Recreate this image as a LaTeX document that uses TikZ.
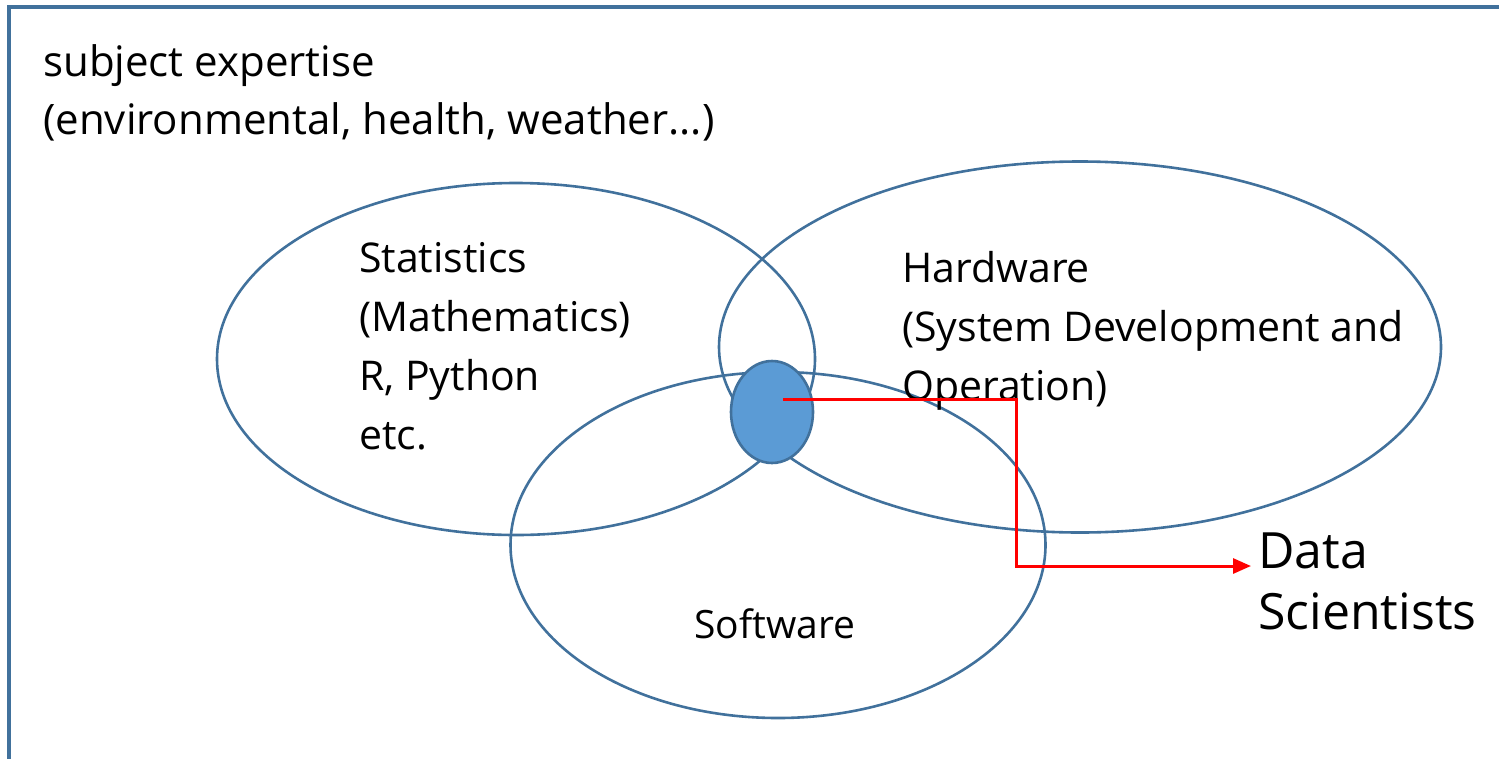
\documentclass[tikz,border=0pt]{standalone}
\usepackage{fontspec}
\setmainfont{Open Sans}
\usepackage{xcolor}
\usetikzlibrary{shapes,arrows.meta,positioning,calc}

\definecolor{vennline}{HTML}{41719C}
\definecolor{vennfill}{HTML}{5B9BD5}

\begin{document}
\begin{tikzpicture}[x=1pt, y=-1pt,
  venn/.style={draw=vennline, ellipse, line width=2.6pt, inner sep=0pt},
  textblock/.style={align=left, anchor=west, inner sep=0pt, font=\fontsize{41}{59}\selectfont},
  redarrow/.style={-{Triangle[length=18pt, width=15pt]}, draw=red, line width=3pt}
]
  \useasboundingbox (0,0) rectangle (1499,758);

  % Outer frame
  \draw[vennline, line width=3.4pt] (9,760) -- (9,7) -- (1502,7);
  \node[textblock, font=\fontsize{42}{58}\selectfont] (subject) at (43,93) {subject expertise\\(environmental, health, weather...)};

  % Three fields
  \node[venn, minimum width=598pt, minimum height=352pt] (stats) at (516,359) {};
  \node[venn, minimum width=722pt, minimum height=371pt] (hw) at (1080,347) {};
  \node[venn, minimum width=535pt, minimum height=346pt] (sw) at (778,545) {};

  \node[textblock] (statstext) at (359,346) {Statistics\\(Mathematics)\\R, Python\\etc.};
  \node[textblock] (hwtext) at (902,331) {Hardware\\(System Development and\\Operation)};
  \node[textblock, anchor=center, font=\fontsize{39}{47}\selectfont] (swtext) at (775,624) {Software};

  % Overlap of all three
  \node[venn, fill=vennfill, minimum width=82pt, minimum height=102pt] (core) at (772,412) {};

  % Output
  \node[textblock, font=\fontsize{50}{61}\selectfont] (ds) at (1258,581) {Data\\Scientists};
  \coordinate (start) at (783,399);
  \coordinate (turn) at (1016,566);
  \coordinate (tip) at (1251,566);
  \draw[redarrow] (start) -| (turn) -- (tip);
\end{tikzpicture}
\end{document}
